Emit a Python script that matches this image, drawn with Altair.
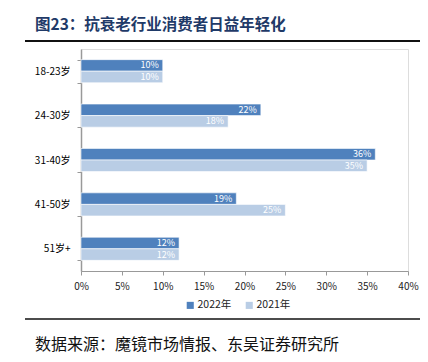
import altair as alt
import pandas as pd

categories = ["18-23岁", "24-30岁", "31-40岁", "41-50岁", "51岁+"]
series = ["2022年", "2021年"]
v2022 = [0.10, 0.22, 0.36, 0.19, 0.12]
v2021 = [0.10, 0.18, 0.35, 0.25, 0.12]
colors = ["#4F81BD", "#B9CDE5"]
title_text = "图23：抗衰老行业消费者日益年轻化"
source_text = "数据来源：魔镜市场情报、东吴证券研究所"

rows = []
for c, a, b in zip(categories, v2022, v2021):
    rows.append({"cat": c, "series": series[0], "v": a})
    rows.append({"cat": c, "series": series[1], "v": b})
df = pd.DataFrame(rows)

FONT = "Noto Sans CJK SC"

y_enc = alt.Y("cat:N", sort=categories,
              scale=alt.Scale(paddingInner=0.48, paddingOuter=0.24),
              axis=alt.Axis(title=None, labelFont=FONT, labelFontSize=10, labelColor="#000",
                            domainColor="#999", tickColor="#999", tickSize=4,
                            tickBand="extent", labelPadding=7, domainWidth=1.5))
yoff = alt.YOffset("series:N", sort=series, scale=alt.Scale(domain=series))
x_enc = alt.X("v:Q", scale=alt.Scale(domain=[0, 0.4]),
              axis=alt.Axis(title=None, format=".0%", values=[0, 0.05, 0.1, 0.15, 0.2, 0.25, 0.3, 0.35, 0.4],
                            grid=False, labelFont=FONT, labelFontSize=10, labelColor="#222",
                            labelFlush=False, labelOverlap=False,
                            domainColor="#999", tickColor="#999", tickSize=4, labelPadding=6,
                            domainWidth=1))

base = alt.Chart(df)
bars = base.mark_bar(stroke="white", strokeWidth=0.6).encode(
    y=y_enc, yOffset=yoff, x=x_enc,
    color=alt.Color("series:N", sort=series,
                    scale=alt.Scale(domain=series, range=colors),
                    legend=alt.Legend(title=None, orient="none", legendX=104, legendY=251,
                                      direction="horizontal", symbolType="square", symbolSize=50,
                                      symbolStrokeWidth=0, labelFont=FONT, labelFontSize=10.5,
                                      labelColor="#222", columnPadding=12, labelOffset=2)),
)
labels = base.mark_text(align="right", baseline="middle", dx=-4, color="white", font=FONT,
                        fontSize=9).encode(
    y=alt.Y("cat:N", sort=categories), yOffset=yoff, x="v:Q",
    text=alt.Text("v:Q", format=".0%"),
)

one = alt.Data(values=[{"a": 1}])
title = alt.Chart(one).mark_text(align="left", baseline="middle", font=FONT, fontSize=15.5,
                                 fontWeight="bold", color="#1F3A68").encode(
    x=alt.value(-46), y=alt.value(-24), text=alt.value(title_text))
top_rule = alt.Chart(one).mark_rule(color="#111", strokeWidth=2).encode(
    x=alt.value(-56), x2=alt.value(347), y=alt.value(-8))
bottom_rule = alt.Chart(one).mark_rule(color="#111", strokeWidth=1.5).encode(
    x=alt.value(-56), x2=alt.value(347), y=alt.value(270))
source = alt.Chart(one).mark_text(align="left", baseline="middle", font=FONT, fontSize=16,
                                  color="#111").encode(
    x=alt.value(-46), y=alt.value(296), text=alt.value(source_text))

chart = alt.layer(bars, labels, title, top_rule, bottom_rule, source).properties(
    width=327, height=222,
    padding={"left": 73, "top": 41, "right": 12, "bottom": 83},
    autosize=alt.AutoSizeParams(type="none"),
).configure_view(stroke=None).configure(background="white")

chart.save("out.html", embed_options={"renderer": "svg", "actions": False})
